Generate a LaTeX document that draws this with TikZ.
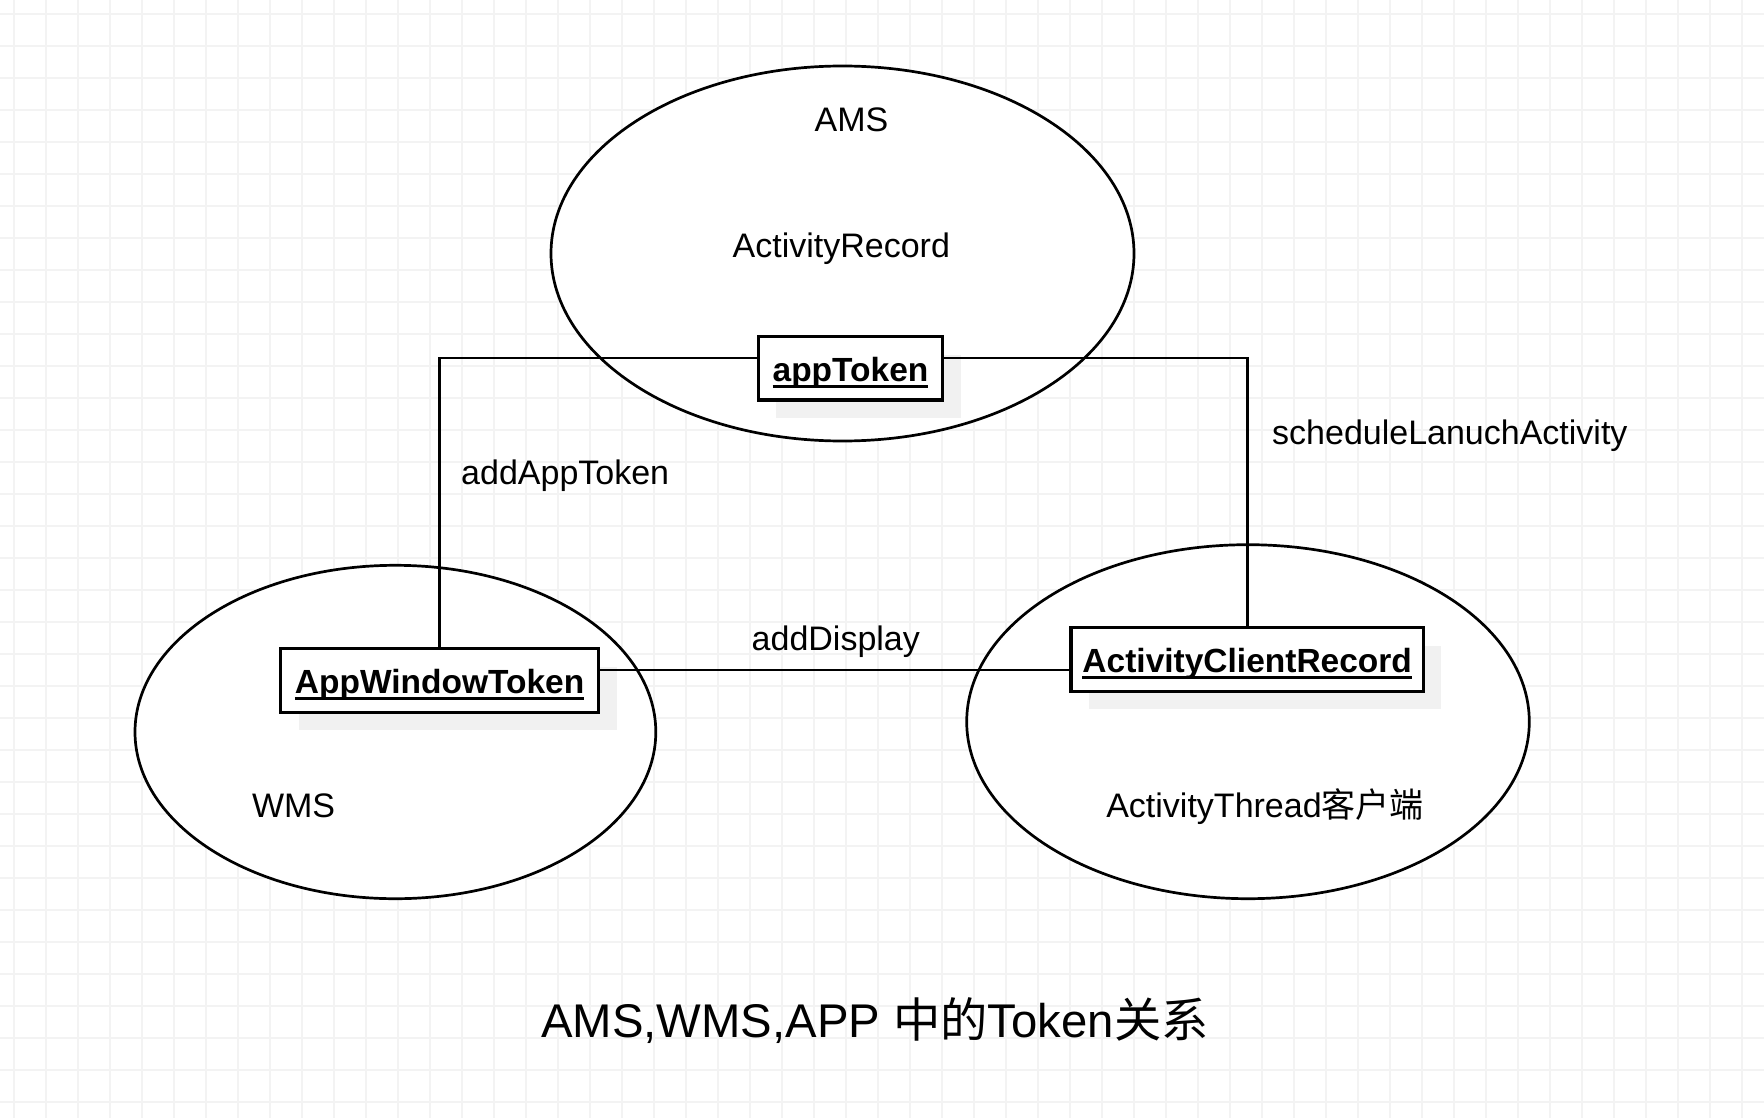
\documentclass[tikz,border=0pt]{standalone}
\usepackage{fontspec}
\setmainfont{Liberation Sans}
\newfontfamily\cjk{Noto Sans CJK SC}
\usetikzlibrary{shapes.geometric,shadows}
\definecolor{gridc}{RGB}{243,243,243}
\definecolor{shadowc}{RGB}{241,241,241}
\newcommand\myul[1]{\setbox0\hbox{#1}\rlap{\vrule width\wd0 height -3.5pt depth 6.5pt}\box0}
\tikzset{
  region/.style={ellipse, draw=black, fill=white, line width=2.7pt, inner sep=0pt},
  tokenbox/.style={rectangle, draw=black, fill=white, line width=3.2pt, inner sep=0pt,
    minimum height=63.3pt, text height=26pt, text depth=0pt,
    font=\fontsize{33.5pt}{40pt}\selectfont\bfseries,
    general shadow={fill=shadowc, shadow xshift=18pt, shadow yshift=-18pt}},
  lbl/.style={font=\fontsize{34pt}{40pt}\selectfont, inner sep=0pt},
  conn/.style={draw=black, line width=2.8pt},
}
\begin{document}
\begin{tikzpicture}[x=1pt,y=-1pt]
\useasboundingbox (0,0) rectangle (1764,1118);
\fill[white] (0,0) rectangle (1764,1118);
% grid
\foreach \i in {0,...,54} \draw[gridc, line width=1.2pt] (14+32*\i,0) -- (14+32*\i,1118);
\foreach \j in {0,...,34} \draw[gridc, line width=1.2pt] (0,14+32*\j) -- (1764,14+32*\j);
% regions
\node[region, minimum width=583pt, minimum height=375pt] (ams) at (842.5,253.5) {};
\node[region, minimum width=520.8pt, minimum height=333.4pt] (wms) at (395.4,732) {};
\node[region, minimum width=562.6pt, minimum height=354pt] (app) at (1248,721.7) {};
% region labels
\node[lbl, anchor=base] (amsl) at (851.5,132) {AMS};
\node[lbl, anchor=base] (arl) at (841.3,257) {ActivityRecord};
\node[lbl, anchor=base] (wmsl) at (293.6,817) {WMS};
\node[lbl, anchor=base] (atl) at (1265,817.5) {ActivityThread{\cjk 客户端}};
% token boxes
\node[tokenbox, minimum width=184.4pt] (tok) at (850.5,368.4) {\myul{appToken}};
\node[tokenbox, minimum width=318pt] (awt) at (439.6,680.5) {\myul{AppWindowToken}};
\node[tokenbox, minimum width=352.4pt] (acr) at (1247.2,659.5) {\myul{ActivityClientRecord}};
% connectors
\draw[conn] ([yshift=10.4pt]tok.west) -| (awt.north);
\draw[conn] ([yshift=10.4pt]tok.east) -| (acr.north);
\draw[conn] ([yshift=10.5pt]awt.east) -- ([yshift=-10.5pt]acr.west);
% connector labels
\node[lbl, anchor=base west] (l1) at (461,484) {addAppToken};
\node[lbl, anchor=base west] (l2) at (1272,444) {scheduleLanuchActivity};
\node[lbl, anchor=base west] (l3) at (751.5,650) {addDisplay};
% title
\node[font=\fontsize{47.3pt}{54pt}\selectfont, inner sep=0pt, anchor=base] (title) at (875,1037) {AMS,WMS,APP {\cjk 中的}Token{\cjk 关系}};
\end{tikzpicture}
\end{document}
